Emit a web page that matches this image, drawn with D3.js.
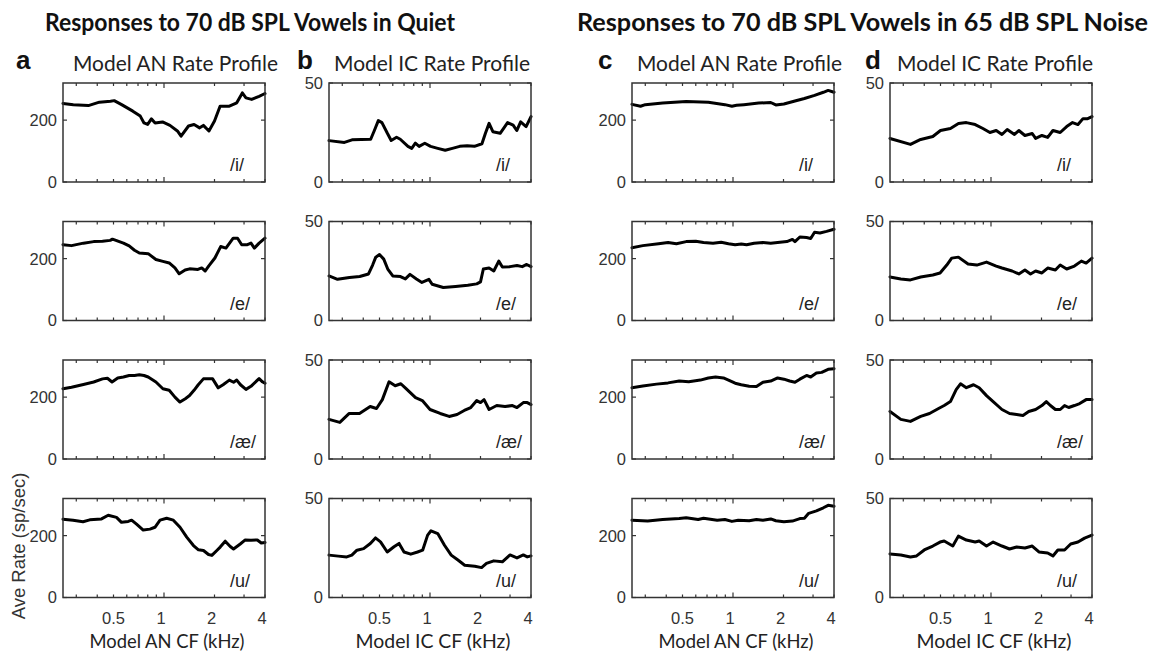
<!DOCTYPE html>
<html><head><meta charset="utf-8">
<script src="https://cdn.jsdelivr.net/npm/d3@7"></script>
<style>
  body { margin: 0; background: #fff; }
  svg { display: block; }
</style>
</head><body>
<svg id="fig" width="1151" height="653"></svg>
<script>
// ---- Rate profiles: [CF (kHz), average rate (sp/sec)] ----
// Quiet, model AN
const anQuietI = [[0.25,254],[0.288,250],[0.354,247],[0.412,258],[0.48,261],[0.505,263],[0.559,250],[0.652,229],[0.722,213],[0.76,191],[0.799,186],[0.841,204],[0.885,191],[0.98,194],[1.085,183],[1.202,165],[1.264,148],[1.40,181],[1.511,186],[1.631,175],[1.717,183],[1.853,165],[2.0,197],[2.159,245],[2.452,245],[2.715,256],[2.93,288],[3.08,272],[3.33,267],[3.69,277],[4.0,286]];
const anQuietE = [[0.25,245],[0.281,242],[0.331,250],[0.381,255],[0.43,256],[0.478,259],[0.493,263],[0.573,250],[0.62,241],[0.667,227],[0.713,218],[0.805,216],[0.895,197],[0.985,191],[1.074,186],[1.162,170],[1.232,151],[1.336,163],[1.422,167],[1.593,165],[1.678,170],[1.761,160],[1.845,176],[2.011,202],[2.177,239],[2.34,234],[2.585,266],[2.745,266],[2.905,245],[3.142,245],[3.30,250],[3.457,234],[3.69,250],[4.0,266]];
const anQuietAE = [[0.25,227],[0.281,232],[0.331,241],[0.381,249],[0.43,259],[0.46,261],[0.49,249],[0.53,262],[0.573,265],[0.62,270],[0.667,270],[0.713,272],[0.76,270],[0.805,265],[0.895,249],[0.985,227],[1.074,222],[1.162,200],[1.245,184],[1.34,195],[1.42,205],[1.51,222],[1.6,240],[1.717,259],[1.95,259],[2.105,230],[2.25,240],[2.452,255],[2.6,248],[2.715,255],[2.857,240],[3.08,225],[3.3,235],[3.687,260],[3.85,250],[4.0,245]];
const anQuietU = [[0.25,253],[0.287,250],[0.329,245],[0.361,251],[0.424,254],[0.465,266],[0.521,259],[0.558,243],[0.612,246],[0.641,250],[0.686,237],[0.752,218],[0.825,221],[0.883,227],[0.947,250],[1.037,256],[1.137,250],[1.246,227],[1.366,195],[1.498,168],[1.605,154],[1.719,152],[1.842,139],[1.928,136],[2.065,152],[2.163,163],[2.317,182],[2.482,165],[2.597,157],[2.848,173],[3.05,186],[3.3,185],[3.6,186],[3.8,176],[4.0,178]];
// Quiet, model IC
const icQuietI = [[0.25,20.9],[0.309,20],[0.343,21.3],[0.443,21.6],[0.466,26],[0.492,31],[0.517,30],[0.557,24.6],[0.587,21],[0.632,22.6],[0.665,21.6],[0.739,18],[0.778,17],[0.818,19.6],[0.861,18],[0.931,19.6],[1.008,18],[1.112,17],[1.232,16],[1.36,17],[1.503,18],[1.665,18.3],[1.84,18],[2.04,19.3],[2.14,24.6],[2.25,29.6],[2.37,25.4],[2.62,24.6],[2.90,30],[3.13,28.7],[3.29,26],[3.47,30.4],[3.74,28],[4.0,33]];
const icQuietE = [[0.25,22.5],[0.281,20.8],[0.331,21.7],[0.381,22.2],[0.43,23.5],[0.455,28],[0.475,32],[0.50,33.3],[0.53,31],[0.56,26],[0.6,22.5],[0.667,22.2],[0.713,21],[0.76,23.3],[0.83,21],[0.895,19.2],[0.985,20.8],[1.03,18.3],[1.2,16.7],[1.42,17.2],[1.68,17.8],[1.9,18.5],[2.0,19.5],[2.08,26],[2.25,26.5],[2.4,25],[2.57,30],[2.7,27],[3.0,27.2],[3.3,27.8],[3.55,27.2],[3.77,28.3],[4.0,27.2]];
const icQuietAE = [[0.25,20],[0.29,18.5],[0.33,23],[0.38,23],[0.44,26.5],[0.48,25.5],[0.52,30],[0.57,39],[0.62,37],[0.67,38],[0.72,35.5],[0.82,31],[0.9,29.5],[1.0,25],[1.15,23],[1.3,21.5],[1.45,22.5],[1.6,24.5],[1.75,26],[1.9,29.5],[2.0,28.5],[2.1,30],[2.25,25],[2.5,27],[2.8,26.5],[3.1,27],[3.3,26],[3.6,28.5],[3.8,28.5],[4.0,27.5]];
const icQuietU = [[0.25,21.4],[0.284,20.9],[0.319,20.5],[0.342,21.4],[0.367,23.9],[0.402,24.7],[0.441,27.3],[0.473,30.1],[0.507,28.1],[0.556,23],[0.61,25.6],[0.654,27.3],[0.70,23],[0.768,21.9],[0.843,23],[0.904,23.9],[0.968,31.5],[1.014,33.7],[1.112,32.3],[1.22,26.4],[1.338,21.4],[1.467,18.9],[1.61,16.3],[1.85,15.8],[2.03,15.1],[2.17,17.2],[2.4,18.5],[2.7,18],[3.0,21.5],[3.3,20],[3.6,21.5],[3.8,20.5],[4.0,21]];
// 65 dB SPL noise, model AN
const anNoiseI = [[0.25,251],[0.281,245],[0.30,250],[0.381,255],[0.526,260],[0.713,258],[0.895,250],[0.985,245],[1.05,248],[1.162,250],[1.422,255],[1.678,257],[1.80,249],[2.011,252],[2.34,262],[2.665,270],[3.063,280],[3.457,290],[3.69,296],[4.0,290]];
const anNoiseE = [[0.25,235],[0.29,242],[0.36,248],[0.41,252],[0.46,248],[0.526,255],[0.60,256],[0.667,252],[0.76,250],[0.85,253],[0.94,248],[1.03,245],[1.12,247],[1.205,245],[1.336,250],[1.508,252],[1.678,250],[1.845,252],[2.095,255],[2.26,262],[2.34,255],[2.503,270],[2.745,268],[2.905,265],[3.063,285],[3.30,283],[3.613,288],[4.0,295]];
const anNoiseAE = [[0.25,230],[0.29,236],[0.35,242],[0.41,246],[0.478,252],[0.545,250],[0.639,255],[0.713,262],[0.787,265],[0.877,262],[0.94,255],[1.03,245],[1.12,240],[1.249,235],[1.38,234],[1.508,248],[1.678,252],[1.845,262],[2.011,258],[2.177,252],[2.34,248],[2.503,258],[2.745,270],[2.905,265],[3.142,278],[3.378,280],[3.69,290],[4.0,292]];
const anNoiseU = [[0.25,250],[0.31,247],[0.381,252],[0.478,255],[0.526,258],[0.62,252],[0.667,256],[0.805,250],[0.895,252],[0.985,246],[1.074,250],[1.249,248],[1.38,252],[1.508,250],[1.678,254],[1.80,248],[2.011,245],[2.26,247],[2.503,255],[2.665,256],[2.825,272],[3.142,280],[3.457,290],[3.69,298],[4.0,295]];
// 65 dB SPL noise, model IC
const icNoiseI = [[0.25,22],[0.331,19],[0.381,21.5],[0.45,23],[0.50,26],[0.573,27],[0.64,29.5],[0.713,30],[0.805,29],[0.895,27],[0.985,25],[1.074,26],[1.162,24],[1.249,26.5],[1.38,24],[1.465,26],[1.593,23.5],[1.761,24.5],[1.845,22],[2.011,23.5],[2.177,22.5],[2.34,26],[2.585,25],[2.825,28],[3.063,30],[3.30,29],[3.535,32],[3.77,32],[4.0,33]];
const icNoiseE = [[0.25,22],[0.29,21],[0.331,20.5],[0.381,22],[0.45,23],[0.497,24],[0.545,28],[0.583,31.5],[0.639,32],[0.73,28.5],[0.823,28],[0.94,29.5],[1.074,27.5],[1.162,26.5],[1.336,25],[1.465,23.5],[1.593,25.5],[1.72,23.5],[1.845,25],[2.011,24],[2.177,26.5],[2.42,25.5],[2.585,28],[2.825,26],[3.142,27.5],[3.457,30],[3.69,29],[4.0,31.5]];
const icNoiseAE = [[0.25,24],[0.29,20],[0.331,19],[0.381,21.5],[0.43,23],[0.487,25.5],[0.526,27],[0.573,29],[0.62,35],[0.658,38],[0.713,36],[0.787,37.5],[0.85,36],[0.94,32],[1.03,29],[1.162,25],[1.29,23],[1.422,22.5],[1.55,22],[1.678,24],[1.845,25],[2.011,27],[2.136,29],[2.26,27],[2.42,25],[2.585,25],[2.745,27],[2.905,26],[3.142,27],[3.378,28],[3.69,30],[4.0,30]];
const icNoiseU = [[0.25,22],[0.29,21.5],[0.331,20.5],[0.36,21],[0.40,24],[0.45,26],[0.497,28],[0.526,28.5],[0.592,26],[0.639,31],[0.713,29],[0.805,28],[0.85,28.5],[0.94,26],[1.03,28],[1.162,26],[1.29,24.5],[1.422,25.5],[1.593,25],[1.761,26],[1.93,23],[2.177,22.5],[2.34,21],[2.503,24],[2.745,24],[2.985,27],[3.30,28],[3.613,30],[4.0,31.5]];

// ---- Axis ticks and labels ----
const cfDomain = [0.25, 4];
const xTickValues = [0.5, 1, 2, 4];
const xTickLabels = ["0.5", "1", "2", "4"];
const xMinorTicks = [0.3, 0.4, 0.5, 0.6, 0.7, 0.8, 0.9, 2, 3, 4];
const xMajorTicks = [1];
const anYTicks = [0, 200];
const icYTicks = [0, 50];
const vowels = ["/i/", "/e/", "/æ/", "/u/"];
const panelLetters = ["a", "b", "c", "d"];
const panelTitles = ["Model AN Rate Profile", "Model IC Rate Profile", "Model AN Rate Profile", "Model IC Rate Profile"];
const xTitles = ["Model AN CF (kHz)", "Model IC CF (kHz)", "Model AN CF (kHz)", "Model IC CF (kHz)"];
const groupTitles = ["Responses to 70 dB SPL Vowels in Quiet", "Responses to 70 dB SPL Vowels in 65 dB SPL Noise"];

const columns = [
  { yMax: 320, yTicks: anYTicks, series: [anQuietI, anQuietE, anQuietAE, anQuietU] },
  { yMax: 50,  yTicks: icYTicks, series: [icQuietI, icQuietE, icQuietAE, icQuietU] },
  { yMax: 320, yTicks: anYTicks, series: [anNoiseI, anNoiseE, anNoiseAE, anNoiseU] },
  { yMax: 50,  yTicks: icYTicks, series: [icNoiseI, icNoiseE, icNoiseAE, icNoiseU] }
];

// ---- Layout ----
const colLeft = [63, 329, 632, 890];
const panelW = 202;
const rowTop = [83, 221.5, 360, 498.5];
const panelH = 99;
const letterX = [16, 297, 598, 865];
const headX = [73, 334, 637, 897];
const headW = [205, 196, 205, 196];

const svg = d3.select("#fig");
const sans = "'Liberation Sans', Arial, sans-serif";
const humanist = "Lato, 'Open Sans', sans-serif";

// Group titles
const titleSpans = [[45, 455], [577, 1148]];
groupTitles.forEach((t, i) => {
  svg.append("text")
    .attr("x", titleSpans[i][0]).attr("y", 31)
    .attr("textLength", titleSpans[i][1] - titleSpans[i][0])
    .attr("lengthAdjust", "spacingAndGlyphs")
    .style("font-family", humanist).style("font-weight", 700)
    .style("font-size", "24px").attr("fill", "#111").text(t);
});

columns.forEach((col, c) => {
  const x = d3.scaleLog().domain(cfDomain).range([colLeft[c], colLeft[c] + panelW]);

  // panel letter and column heading
  svg.append("text").attr("x", letterX[c]).attr("y", 69)
    .style("font-family", sans).style("font-weight", 700).style("font-size", "26px")
    .attr("fill", "#111").text(panelLetters[c]);
  svg.append("text").attr("x", headX[c]).attr("y", 71)
    .attr("textLength", headW[c]).attr("lengthAdjust", "spacingAndGlyphs")
    .style("font-family", humanist).style("font-size", "21px")
    .attr("fill", "#222").text(panelTitles[c]);

  col.series.forEach((data, r) => {
    const top = rowTop[r], bottom = top + panelH;
    const y = d3.scaleLinear().domain([0, col.yMax]).range([bottom, top]);
    const g = svg.append("g");

    // curve
    const line = d3.line().x(d => x(d[0])).y(d => y(d[1]));
    g.append("path").datum(data).attr("d", line)
      .attr("fill", "none").attr("stroke", "#000").attr("stroke-width", 3)
      .attr("stroke-linejoin", "round").attr("stroke-linecap", "round");

    // x ticks (inward, bottom and top)
    const tickSet = [...xMinorTicks.map(v => [v, 3]), ...xMajorTicks.map(v => [v, 5])];
    tickSet.forEach(([v, len]) => {
      g.append("line").attr("x1", x(v)).attr("x2", x(v)).attr("y1", bottom).attr("y2", bottom - len)
        .attr("stroke", "#333").attr("stroke-width", 1.2);
      g.append("line").attr("x1", x(v)).attr("x2", x(v)).attr("y1", top).attr("y2", top + len)
        .attr("stroke", "#333").attr("stroke-width", 1.2);
    });
    // y ticks (inward, left and right)
    col.yTicks.forEach(v => {
      g.append("line").attr("x1", colLeft[c]).attr("x2", colLeft[c] + 4).attr("y1", y(v)).attr("y2", y(v))
        .attr("stroke", "#333").attr("stroke-width", 1.2);
      g.append("line").attr("x1", colLeft[c] + panelW).attr("x2", colLeft[c] + panelW - 4).attr("y1", y(v)).attr("y2", y(v))
        .attr("stroke", "#333").attr("stroke-width", 1.2);
      g.append("text").attr("x", colLeft[c] - 6).attr("y", y(v)).attr("dy", "0.36em")
        .attr("text-anchor", "end").style("font-family", sans).style("font-size", "16.5px")
        .attr("fill", "#333").text(v);
    });

    // box
    g.append("rect").attr("x", colLeft[c]).attr("y", top).attr("width", panelW).attr("height", panelH)
      .attr("fill", "none").attr("stroke", "#333").attr("stroke-width", 1.5);

    // vowel label
    g.append("text").attr("x", colLeft[c] + 167).attr("y", bottom - 11)
      .style("font-family", sans).style("font-size", "18px")
      .attr("fill", "#222").text(vowels[r]);

    // x tick labels and axis title on the bottom row
    if (r === vowels.length - 1) {
      xTickValues.forEach((v, i) => {
        g.append("text").attr("x", x(v)).attr("dx", v === 0.5 ? 0 : -3).attr("y", bottom + 26)
          .attr("text-anchor", "middle")
          .style("font-family", sans).style("font-size", "16.5px").attr("fill", "#333").text(xTickLabels[i]);
      });
      g.append("text").attr("x", colLeft[c] + panelW / 2 + 3).attr("y", bottom + 50).attr("text-anchor", "middle")
        .attr("textLength", 155).attr("lengthAdjust", "spacingAndGlyphs")
        .style("font-family", humanist).style("font-size", "20px").attr("fill", "#222").text(xTitles[c]);
    }
  });
});

// shared y-axis label
svg.append("text").attr("transform", "translate(25,546) rotate(-90)").attr("text-anchor", "middle")
  .style("font-family", sans).style("font-size", "18.5px").attr("fill", "#333").text("Ave Rate (sp/sec)");
</script>
</body></html>
